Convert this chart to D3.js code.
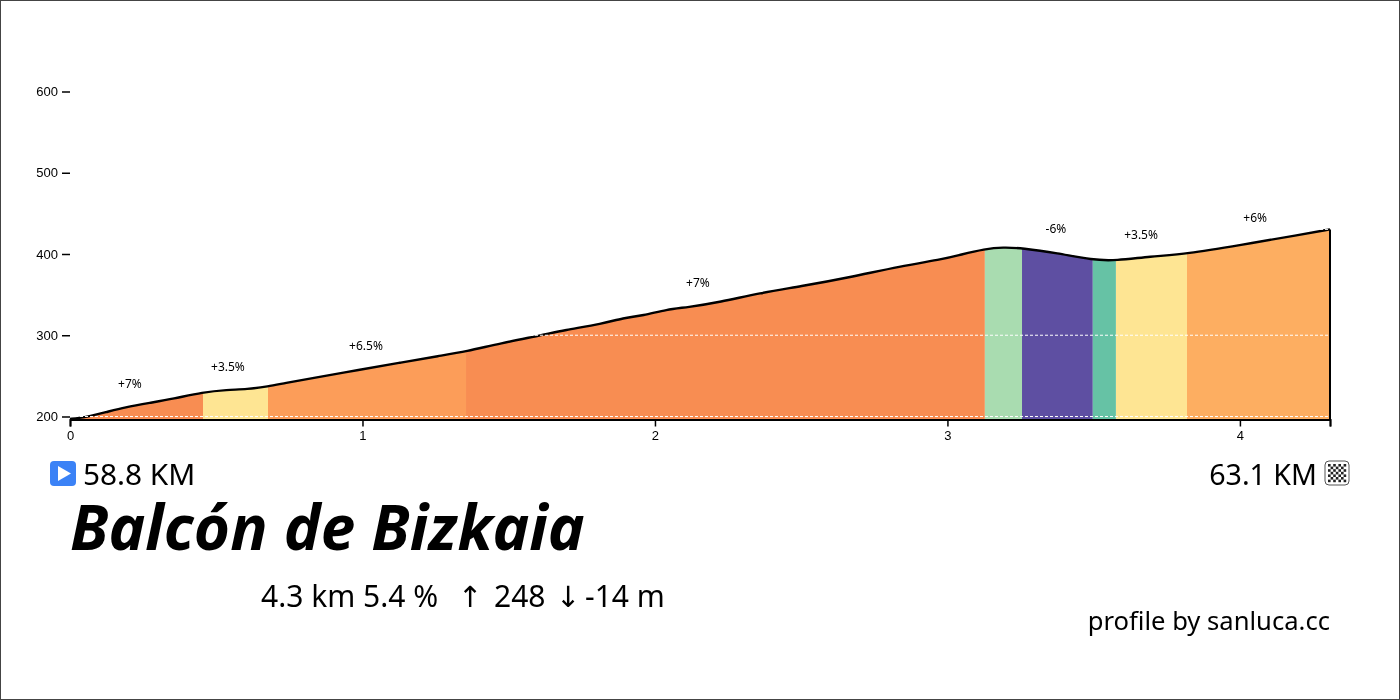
<!DOCTYPE html>
<html>
<head>
<meta charset="utf-8">
<script src="https://cdn.jsdelivr.net/npm/d3@7"></script>
<style>
body { margin: 0; background: #fff; }
svg { display: block; will-change: transform; }
</style>
</head>
<body>
<script>
var w = 1400;
var h = 700;

// profile
var km = [0, 0.03, 0.068, 0.12, 0.188, 0.274, 0.352, 0.455, 0.537, 0.605, 0.677, 0.735, 0.82, 0.992, 1.128, 1.265, 1.354, 1.47, 1.617, 1.686, 1.822, 1.891, 1.959, 2.041, 2.11, 2.222, 2.359, 2.496, 2.667, 2.838, 2.991, 3.043, 3.128, 3.19, 3.255, 3.375, 3.497, 3.576, 3.692, 3.819, 4, 4.205, 4.308];
var elevation = [197, 198, 200.5, 205, 211.4, 216.9, 221.7, 229.9, 232.8, 233.5, 236.9, 241.2, 246.7, 257.7, 266.2, 274.7, 279.9, 290, 300.4, 306, 314.3, 321.3, 324.1, 331.9, 334.3, 340.7, 352, 360, 371.4, 384.9, 394, 399, 406.2, 408.4, 407.3, 401.2, 392.4, 391.8, 397, 400, 411, 423.6, 430.3];

// climb sections
var sectionStart = [0, 0.455, 0.677, 1.354, 3.128, 3.255, 3.497, 3.576, 3.819];
var sectionEnd = [0.455, 0.677, 1.354, 3.128, 3.255, 3.497, 3.576, 3.819, 4.308];
var sectionColor = ["#f88d52", "#fee593", "#fc9d59", "#f88d52", "#a9dcb0", "#5e4fa2", "#66c2a5", "#fee593", "#fdae61"];

// gradient labels
var labelText = ["+7%", "+3.5%", "+6.5%", "+7%", "-6%", "+3.5%", "+6%"];
var labelKm = [0.205, 0.54, 1.012, 2.147, 3.371, 3.662, 4.052];
var labelEle = [235.6, 256.5, 282.3, 359.7, 426, 418.7, 439.6];

var yTicks = [200, 300, 400, 500, 600];
var xTicks = [0, 1, 2, 3, 4, 4.308];
var gridLevels = [200, 300, 430.3];

var font = "'Noto Sans', sans-serif";

var x = d3.scaleLinear().domain([0, 4.308]).range([70, 1330]);
var y = d3.scaleLinear().domain([196.3, 600]).range([419.5, 91.5]);

var profile = km.map(function (d, i) { return [d, elevation[i]]; });

var svg = d3.select("body").append("svg")
    .attr("width", w)
    .attr("height", h);

// frame
svg.append("rect")
    .attr("x", 0.5).attr("y", 0.5)
    .attr("width", w - 1).attr("height", h - 1)
    .attr("fill", "#fff")
    .attr("stroke", "#444");

var area = d3.area()
    .x(function (d) { return x(d[0]); })
    .y0(y(196.3))
    .y1(function (d) { return y(d[1]); })
    .curve(d3.curveBasis);

var defs = svg.append("defs");

// each section is the profile area clipped to its own x range
sectionStart.forEach(function (s, i) {
    defs.append("clipPath").attr("id", "sec" + i)
        .append("rect")
        .attr("x", x(s))
        .attr("y", 0)
        .attr("width", x(sectionEnd[i]) - x(s))
        .attr("height", h);
    svg.append("path")
        .attr("d", area(profile))
        .attr("fill", sectionColor[i])
        .attr("clip-path", "url(#sec" + i + ")");
});

var line = d3.line()
    .x(function (d) { return x(d[0]); })
    .y(function (d) { return y(d[1]); })
    .curve(d3.curveBasis);

svg.append("path")
    .attr("d", line(profile))
    .attr("fill", "none")
    .attr("stroke", "#000")
    .attr("stroke-width", 2.4);

// right edge of the profile
svg.append("line")
    .attr("x1", x(4.308)).attr("x2", x(4.308))
    .attr("y1", y(430.3)).attr("y2", y(196.3))
    .attr("stroke", "#000")
    .attr("stroke-width", 2);

svg.selectAll("line.grid")
    .data(gridLevels)
    .enter()
    .append("line")
    .attr("class", "grid")
    .attr("x1", 70).attr("x2", 1330)
    .attr("y1", function (d) { return y(d); })
    .attr("y2", function (d) { return y(d); })
    .attr("stroke", "#fff")
    .attr("stroke-width", 1)
    .attr("stroke-dasharray", "3,2");

var xAxis = d3.axisBottom(x)
    .tickValues(xTicks)
    .tickSize(7)
    .tickPadding(4)
    .tickFormat(function (d) { return d === 4.308 ? "" : d; });

var gx = svg.append("g")
    .attr("transform", "translate(0," + y(196.3) + ")")
    .call(xAxis);
gx.select(".domain").attr("stroke-width", 2).attr("stroke", "#000");
gx.selectAll("line").attr("stroke-width", 1.5);
gx.selectAll("text").style("font", "13px 'Liberation Sans', sans-serif").attr("fill", "#000");

var yAxis = d3.axisLeft(y)
    .tickValues(yTicks)
    .tickSize(8)
    .tickPadding(4);

var gy = svg.append("g")
    .attr("transform", "translate(70,0)")
    .call(yAxis);
gy.select(".domain").remove();
gy.selectAll("line").attr("stroke-width", 1.5);
gy.selectAll("text").style("font", "13px 'Liberation Sans', sans-serif").attr("fill", "#000");

svg.selectAll("text.grade")
    .data(labelText)
    .enter()
    .append("text")
    .attr("class", "grade")
    .attr("x", function (d, i) { return x(labelKm[i]); })
    .attr("y", function (d, i) { return y(labelEle[i]); })
    .attr("text-anchor", "middle")
    .attr("font-family", font)
    .attr("font-size", 12)
    .text(function (d) { return d; });

// start icon
svg.append("rect")
    .attr("x", 50).attr("y", 461)
    .attr("width", 26).attr("height", 25).attr("rx", 4)
    .attr("fill", "#3b82f6");
svg.append("path")
    .attr("d", "M58,466 L71,473.5 L58,481 Z")
    .attr("fill", "#fff");

// finish icon
var flag = svg.append("g");
flag.append("rect")
    .attr("x", 1325).attr("y", 461)
    .attr("width", 24).attr("height", 24).attr("rx", 4)
    .attr("fill", "#fff").attr("stroke", "#555");
d3.range(7).forEach(function (r) {
    d3.range(7).forEach(function (c) {
        if ((r + c) % 2 === 0) {
            flag.append("rect")
                .attr("x", 1328 + c * 2.6).attr("y", 464 + r * 2.6)
                .attr("width", 2.6).attr("height", 2.6)
                .attr("fill", "#222");
        }
    });
});

function label(tx, ty, txt, size, anchor, weight, style, family) {
    svg.append("text")
        .attr("x", tx).attr("y", ty)
        .attr("text-anchor", anchor)
        .attr("font-family", family || font)
        .attr("font-size", size)
        .attr("font-weight", weight || 400)
        .attr("font-style", style || "normal")
        .text(txt);
}

label(83, 485, "58.8 KM", 29.8, "start");
label(1317, 485, "63.1 KM", 28.6, "end");
label(70, 550, "Balcón de Bizkaia", 62, "start", 700, "italic");
label(261, 607, "4.3 km 5.4 %", 30, "start");
label(458, 607, "↑", 29, "start", 400, "normal", "'DejaVu Sans'");
label(494, 607, "248", 30, "start");
label(556, 607, "↓", 29, "start", 400, "normal", "'DejaVu Sans'");
label(585, 607, "-14 m", 30, "start");
label(1330, 630, "profile by sanluca.cc", 25.6, "end");
</script>
</body>
</html>
